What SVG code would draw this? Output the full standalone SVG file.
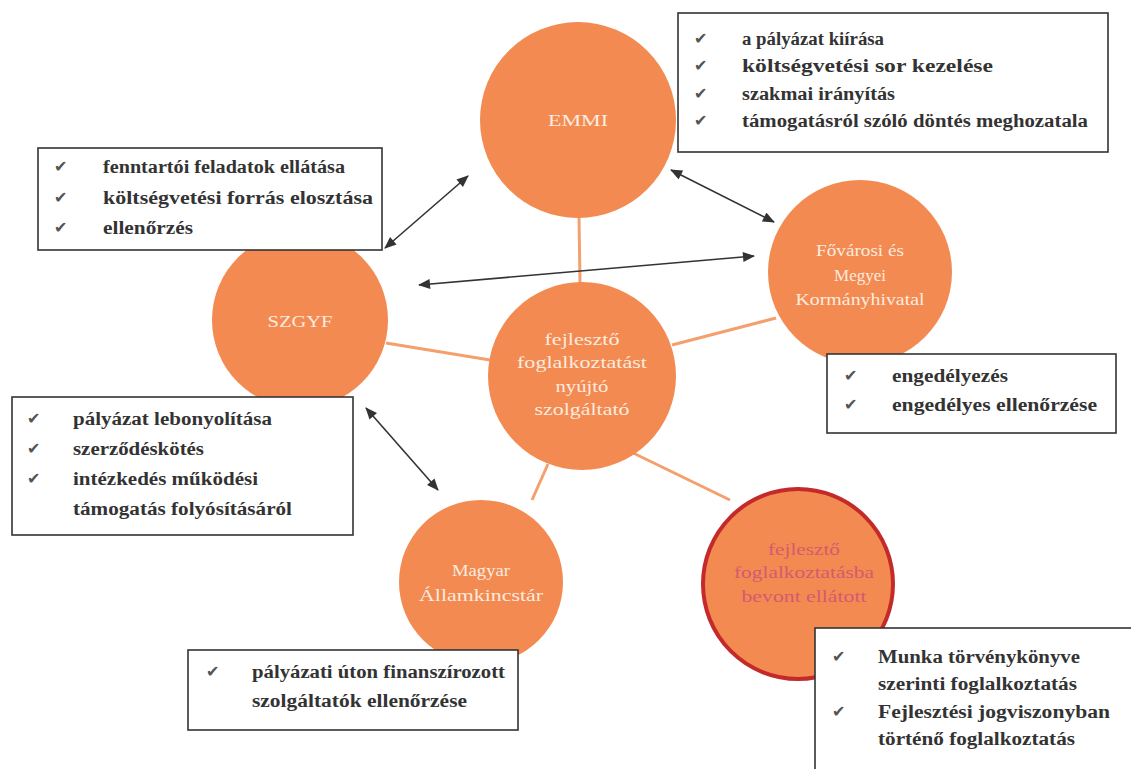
<svg xmlns="http://www.w3.org/2000/svg" width="1131" height="769" viewBox="0 0 1131 769">
<defs>
<style>
.circ{fill:#F38A52;}
.ctext{font-family:"Liberation Serif","Times New Roman",serif;font-size:17px;fill:#FCEBDF;text-anchor:middle;}
.rtext{font-family:"Liberation Serif","Times New Roman",serif;font-size:17px;fill:#D45A6E;text-anchor:middle;}
.box{fill:#ffffff;stroke:#333333;stroke-width:1.6;}
.bt{font-family:"Liberation Serif","Times New Roman",serif;font-size:18px;font-weight:bold;fill:#333333;}
.chk{font-family:"DejaVu Sans",sans-serif;font-size:16px;fill:#555555;}
.oline{stroke:#F4A06E;stroke-width:3;fill:none;}
.arrow{stroke:#333333;stroke-width:1.6;fill:none;marker-start:url(#ah);marker-end:url(#ah);}
</style>
<marker id="ah" viewBox="0 0 12 10" refX="11" refY="5" markerWidth="13" markerHeight="10" markerUnits="userSpaceOnUse" orient="auto-start-reverse">
<path d="M0,0 L12,5 L0,10 z" fill="#333333"/>
</marker>
</defs>
<rect width="1131" height="769" fill="#ffffff"/>

<g id="connectors-orange">
<line class="oline" x1="579" y1="216" x2="580" y2="284"/>
<line class="oline" x1="386" y1="343" x2="490" y2="360"/>
<line class="oline" x1="672" y1="345" x2="776" y2="318"/>
<line class="oline" x1="548" y1="464" x2="532" y2="500"/>
<line class="oline" x1="627" y1="450" x2="730" y2="500"/>
</g>

<g id="node-emmi">
<circle class="circ" cx="578" cy="120" r="98"/>
<text class="ctext" x="578" y="126" textLength="60" lengthAdjust="spacingAndGlyphs">EMMI</text>
</g>
<g id="node-fkh">
<circle class="circ" cx="860" cy="272" r="92"/>
<text class="ctext" x="860" y="256" textLength="88" lengthAdjust="spacingAndGlyphs">Fővárosi és</text>
<text class="ctext" x="860" y="281" textLength="52" lengthAdjust="spacingAndGlyphs">Megyei</text>
<text class="ctext" x="860" y="305" textLength="129" lengthAdjust="spacingAndGlyphs">Kormányhivatal</text>
</g>
<g id="node-szgyf">
<circle class="circ" cx="300" cy="320" r="88"/>
<text class="ctext" x="300" y="327" textLength="65" lengthAdjust="spacingAndGlyphs">SZGYF</text>
</g>
<g id="node-center">
<circle class="circ" cx="582" cy="376" r="94"/>
<text class="ctext" x="582" y="345" textLength="75" lengthAdjust="spacingAndGlyphs">fejlesztő</text>
<text class="ctext" x="582" y="368" textLength="130" lengthAdjust="spacingAndGlyphs">foglalkoztatást</text>
<text class="ctext" x="582" y="392" textLength="53" lengthAdjust="spacingAndGlyphs">nyújtó</text>
<text class="ctext" x="582" y="415" textLength="95" lengthAdjust="spacingAndGlyphs">szolgáltató</text>
</g>
<g id="node-mak">
<circle class="circ" cx="481" cy="582" r="82"/>
<text class="ctext" x="481" y="576" textLength="58" lengthAdjust="spacingAndGlyphs">Magyar</text>
<text class="ctext" x="481" y="601" textLength="124" lengthAdjust="spacingAndGlyphs">Államkincstár</text>
</g>
<g id="node-ellatott">
<circle class="circ" cx="798" cy="584" r="95" fill="#F5884C" stroke="#C42A2A" stroke-width="4"/>
<text class="rtext" x="804" y="555" textLength="72" lengthAdjust="spacingAndGlyphs">fejlesztő</text>
<text class="rtext" x="804" y="578" textLength="140" lengthAdjust="spacingAndGlyphs">foglalkoztatásba</text>
<text class="rtext" x="804" y="602" textLength="125" lengthAdjust="spacingAndGlyphs">bevont ellátott</text>
</g>

<g id="box-emmi">
<rect class="box" x="678" y="13" width="430" height="139"/>
<text class="chk" x="694" y="44">✔</text>
<text class="chk" x="694" y="71">✔</text>
<text class="chk" x="694" y="99">✔</text>
<text class="chk" x="694" y="126">✔</text>
<text class="bt" x="742" y="45" textLength="142" lengthAdjust="spacingAndGlyphs">a pályázat kiírása</text>
<text class="bt" x="742" y="72" textLength="251" lengthAdjust="spacingAndGlyphs">költségvetési sor kezelése</text>
<text class="bt" x="742" y="100" textLength="153" lengthAdjust="spacingAndGlyphs">szakmai irányítás</text>
<text class="bt" x="742" y="127" textLength="346" lengthAdjust="spacingAndGlyphs">támogatásról szóló döntés meghozatala</text>
</g>

<g id="box-fenntartoi">
<rect class="box" x="38" y="148" width="344" height="102"/>
<text class="chk" x="54" y="172">✔</text>
<text class="chk" x="54" y="203">✔</text>
<text class="chk" x="54" y="233">✔</text>
<text class="bt" x="103" y="173" textLength="242" lengthAdjust="spacingAndGlyphs">fenntartói feladatok ellátása</text>
<text class="bt" x="103" y="204" textLength="270" lengthAdjust="spacingAndGlyphs">költségvetési forrás elosztása</text>
<text class="bt" x="103" y="234" textLength="90" lengthAdjust="spacingAndGlyphs">ellenőrzés</text>
</g>

<g id="box-fkh">
<rect class="box" x="827" y="354" width="289" height="79"/>
<text class="chk" x="844" y="381">✔</text>
<text class="chk" x="844" y="410">✔</text>
<text class="bt" x="892" y="382" textLength="116" lengthAdjust="spacingAndGlyphs">engedélyezés</text>
<text class="bt" x="892" y="411" textLength="205" lengthAdjust="spacingAndGlyphs">engedélyes ellenőrzése</text>
</g>

<g id="box-szgyf">
<rect class="box" x="12" y="397" width="341" height="138"/>
<text class="chk" x="27" y="424">✔</text>
<text class="chk" x="27" y="454">✔</text>
<text class="chk" x="27" y="484">✔</text>
<text class="bt" x="73" y="425" textLength="199" lengthAdjust="spacingAndGlyphs">pályázat lebonyolítása</text>
<text class="bt" x="73" y="455" textLength="131" lengthAdjust="spacingAndGlyphs">szerződéskötés</text>
<text class="bt" x="73" y="485" textLength="185" lengthAdjust="spacingAndGlyphs">intézkedés működési</text>
<text class="bt" x="73" y="515" textLength="219" lengthAdjust="spacingAndGlyphs">támogatás folyósításáról</text>
</g>

<g id="box-mak">
<rect class="box" x="188" y="650" width="330" height="80"/>
<text class="chk" x="206" y="677">✔</text>
<text class="bt" x="252" y="678" textLength="253" lengthAdjust="spacingAndGlyphs">pályázati úton finanszírozott</text>
<text class="bt" x="252" y="707" textLength="215" lengthAdjust="spacingAndGlyphs">szolgáltatók ellenőrzése</text>
</g>

<g id="box-ellatott">
<rect class="box" x="815" y="628" width="330" height="160"/>
<text class="chk" x="832" y="662">✔</text>
<text class="chk" x="832" y="717">✔</text>
<text class="bt" x="878" y="663" textLength="202" lengthAdjust="spacingAndGlyphs">Munka törvénykönyve</text>
<text class="bt" x="878" y="690" textLength="199" lengthAdjust="spacingAndGlyphs">szerinti foglalkoztatás</text>
<text class="bt" x="878" y="718" textLength="232" lengthAdjust="spacingAndGlyphs">Fejlesztési jogviszonyban</text>
<text class="bt" x="878" y="745" textLength="197" lengthAdjust="spacingAndGlyphs">történő foglalkoztatás</text>
</g>

<g id="connectors-arrows">
<line class="arrow" x1="385" y1="248" x2="468" y2="176"/>
<line class="arrow" x1="671" y1="170" x2="774" y2="222"/>
<line class="arrow" x1="419" y1="285" x2="754" y2="256"/>
<line class="arrow" x1="366" y1="408" x2="438" y2="490"/>
</g>
</svg>
